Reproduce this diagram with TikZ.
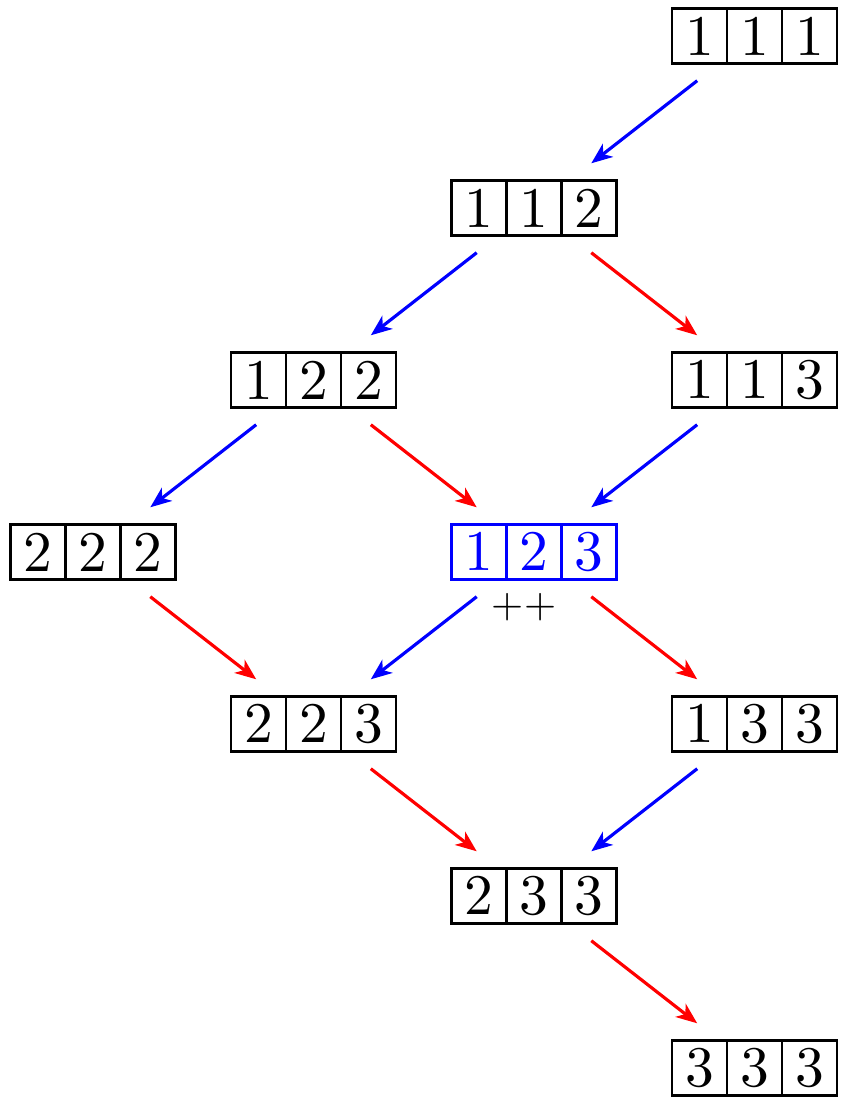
\documentclass[tikz,border=0pt]{standalone}
\usepackage{graphicx}
\usetikzlibrary{arrows.meta, positioning}

% one cell digit, a 10pt glyph blown up
\newcommand{\digit}[1]{\makebox[1.1cm]{\scalebox{3.27}{#1}}}

% one row of three cells, optional colour
\newcommand{\board}[6][black]{%
  \node[tuple, draw=#1, text=#1] (#2) at (#3) {\digit{#4}\digit{#5}\digit{#6}};
  \draw[#1, line width=1.6pt] ([xshift=1.1cm]#2.north west) -- ([xshift=1.1cm]#2.south west);
  \draw[#1, line width=1.6pt] ([xshift=2.2cm]#2.north west) -- ([xshift=2.2cm]#2.south west);
}

\begin{document}
\begin{tikzpicture}[>={Stealth[length=12pt, width=9.5pt, inset=3.5pt]}]

\tikzstyle{tuple} = [shape=rectangle, line width=1.6pt, inner sep=0pt, outer sep=0pt, minimum height=1.1cm, font=\fontsize{10pt}{12pt}\selectfont]
\tikzstyle{move} = [->, line width=1.8pt, shorten <=0.56cm, shorten >=0.56cm]
\tikzstyle{down} = [move, blue]
\tikzstyle{up} = [move, red]

\useasboundingbox (0,0) rectangle (16.8,-22);

%Creating Blocks
\board{b111}{15.09,-0.72}{1}{1}{1}
\board{b112}{10.68,-4.16}{1}{1}{2}
\board{b122}{6.27,-7.60}{1}{2}{2}
\board{b113}{15.09,-7.60}{1}{1}{3}
\board{b222}{1.86,-11.04}{2}{2}{2}
\board[blue]{b123}{10.68,-11.04}{1}{2}{3}
\board{b223}{6.27,-14.48}{2}{2}{3}
\board{b133}{15.09,-14.48}{1}{3}{3}
\board{b233}{10.68,-17.92}{2}{3}{3}
\board{b333}{15.09,-21.36}{3}{3}{3}

\node [below=0.28cm of b123, xshift=-0.2cm, inner sep=0pt, font=\fontsize{10pt}{12pt}\selectfont] (inc) {\scalebox{2.35}{++}};

%Conecting Blocks
\draw[down] (b111) -- (b112);
\draw[down] (b112) -- (b122);
\draw[up] (b112) -- (b113);
\draw[down] (b122) -- (b222);
\draw[up] (b122) -- (b123);
\draw[down] (b113) -- (b123);
\draw[up] (b222) -- (b223);
\draw[down] (b123) -- (b223);
\draw[up] (b123) -- (b133);
\draw[up] (b223) -- (b233);
\draw[down] (b133) -- (b233);
\draw[up] (b233) -- (b333);

\end{tikzpicture}
\end{document}
